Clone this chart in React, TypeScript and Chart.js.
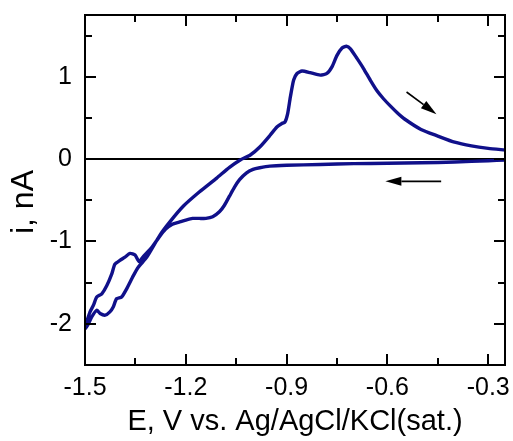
import React, { useEffect, useRef } from "react";
import { Chart, registerables } from "chart.js";

Chart.register(...registerables);

// Cathodic scan (from -0.25 V towards -1.5 V)
const cathodicE = [
  -0.25, -0.3, -0.4, -0.5, -0.6, -0.7, -0.8, -0.9, -0.95, -0.98, -1.0, -1.02, -1.04, -1.055,
  -1.07, -1.085, -1.1, -1.12, -1.14, -1.16, -1.18, -1.2, -1.22, -1.24, -1.26, -1.28, -1.301,
  -1.326, -1.339, -1.351, -1.366, -1.381, -1.396, -1.411, -1.42, -1.435, -1.45, -1.465, -1.475,
  -1.485, -1.495, -1.5,
];
const cathodicI = [
  -0.01, -0.02, -0.035, -0.045, -0.05, -0.055, -0.065, -0.075, -0.085, -0.105, -0.125, -0.17, -0.25, -0.34,
  -0.45, -0.56, -0.64, -0.7, -0.72, -0.72, -0.72, -0.74, -0.765, -0.79, -0.85, -0.95, -1.07,
  -1.18, -1.245, -1.165, -1.145, -1.19, -1.23, -1.275, -1.39, -1.535, -1.635, -1.675, -1.775,
  -1.855, -1.975, -2.04,
];

// Anodic (return) scan (from -1.5 V back to -0.25 V)
const anodicE = [
  -1.5, -1.49, -1.48, -1.465, -1.455, -1.44, -1.426, -1.416, -1.406, -1.391, -1.376, -1.356,
  -1.341, -1.316, -1.2765, -1.245, -1.207, -1.16, -1.108, -1.07, -1.038, -1.008, -0.979, -0.949,
  -0.929, -0.915, -0.905, -0.897, -0.889, -0.879, -0.869, -0.854, -0.83, -0.8, -0.78, -0.765,
  -0.75, -0.735, -0.722, -0.71, -0.69, -0.671, -0.651, -0.631, -0.611, -0.59, -0.57, -0.55,
  -0.5, -0.45, -0.4, -0.35, -0.3, -0.25,
];
const anodicI = [
  -2.06, -2.0, -1.915, -1.835, -1.875, -1.895, -1.855, -1.795, -1.695, -1.675, -1.575, -1.415,
  -1.31, -1.19, -0.92, -0.75, -0.57, -0.4, -0.23, -0.1, -0.01, 0.05, 0.15, 0.29,
  0.39, 0.43, 0.45, 0.55, 0.75, 0.96, 1.04, 1.07, 1.05, 1.02, 1.04, 1.12,
  1.26, 1.35, 1.37, 1.34, 1.22, 1.1, 0.96, 0.83, 0.73, 0.64, 0.56, 0.49,
  0.36, 0.28, 0.205, 0.16, 0.13, 0.11,
];

const xRange = [-1.5, -0.25];
const yRange = [-2.5, 1.75];
const xMajorTicks = [-1.5, -1.2, -0.9, -0.6, -0.3];
const xMinorTicks = [-1.35, -1.05, -0.75, -0.45];
const yMajorTicks = [-2, -1, 0, 1];
const yMinorTicks = [-2.5, -1.5, -0.5, 0.5, 1.5];

// Scan-direction arrows: [fromE, fromI, toE, toI]
const arrowForward = [-0.543, 0.815, -0.454, 0.546];
const arrowBackward = [-0.44, -0.27, -0.606, -0.27];

const xTitle = "E, V vs. Ag/AgCl/KCl(sat.)";
const yTitle = "i, nA";

const FONT = "'Liberation Sans', Arial, Helvetica, sans-serif";
const CURVE_COLOR = "#10108a";

const framePlugin = {
  id: "frameTicksArrows",
  afterDatasetsDraw(chart: any) {
    const { ctx, chartArea } = chart;
    const xs = chart.scales.x;
    const ys = chart.scales.y;
    const { left, right, top, bottom } = chartArea;
    ctx.save();
    ctx.strokeStyle = "#000";
    ctx.lineWidth = 2;
    ctx.lineCap = "butt";
    // frame
    ctx.strokeRect(left, top, right - left, bottom - top);
    const major = 11;
    const minor = 7;
    ctx.beginPath();
    const xTick = (v: number, len: number) => {
      const px = Math.round(xs.getPixelForValue(v));
      ctx.moveTo(px, bottom);
      ctx.lineTo(px, bottom - len);
      ctx.moveTo(px, top);
      ctx.lineTo(px, top + len);
    };
    const yTick = (v: number, len: number) => {
      const py = Math.round(ys.getPixelForValue(v));
      ctx.moveTo(left, py);
      ctx.lineTo(left + len, py);
      ctx.moveTo(right, py);
      ctx.lineTo(right - len, py);
    };
    xMajorTicks.forEach((v) => xTick(v, major));
    xMinorTicks.forEach((v) => xTick(v, minor));
    yMajorTicks.forEach((v) => yTick(v, major));
    yMinorTicks.forEach((v) => yTick(v, minor));
    ctx.stroke();

    const drawArrow = (a: number[]) => {
      const x1 = xs.getPixelForValue(a[0]);
      const y1 = ys.getPixelForValue(a[1]);
      const x2 = xs.getPixelForValue(a[2]);
      const y2 = ys.getPixelForValue(a[3]);
      const ang = Math.atan2(y2 - y1, x2 - x1);
      const headLen = 16;
      const headW = 4.5;
      const bx = x2 - headLen * Math.cos(ang);
      const by = y2 - headLen * Math.sin(ang);
      ctx.lineWidth = 1.6;
      ctx.beginPath();
      ctx.moveTo(x1, y1);
      ctx.lineTo(bx, by);
      ctx.stroke();
      ctx.beginPath();
      ctx.moveTo(x2, y2);
      ctx.lineTo(bx + headW * Math.sin(ang), by - headW * Math.cos(ang));
      ctx.lineTo(bx - headW * Math.sin(ang), by + headW * Math.cos(ang));
      ctx.closePath();
      ctx.fillStyle = "#000";
      ctx.fill();
    };
    drawArrow(arrowForward);
    drawArrow(arrowBackward);

    // y-axis title (rotated), placed like the reference
    ctx.save();
    ctx.translate(24, (top + bottom) / 2 + 12);
    ctx.rotate(-Math.PI / 2);
    ctx.fillStyle = "#000";
    ctx.font = `32px ${FONT}`;
    ctx.textAlign = "center";
    ctx.textBaseline = "middle";
    ctx.fillText(yTitle, 0, 0);
    ctx.restore();

    ctx.restore();
  },
};

export default function App() {
  const canvasRef = useRef<HTMLCanvasElement | null>(null);

  useEffect(() => {
    if (!canvasRef.current) return;
    const curve = [
      ...cathodicE.map((e, i) => ({ x: e, y: cathodicI[i] })),
      ...anodicE.map((e, i) => ({ x: e, y: anodicI[i] })),
    ];
    const zeroLine = [
      { x: xRange[0], y: 0 },
      { x: xRange[1], y: 0 },
    ];
    const chart = new Chart(canvasRef.current, {
      type: "scatter",
      data: {
        datasets: [
          {
            data: curve,
            showLine: true,
            borderColor: CURVE_COLOR,
            borderWidth: 3.4,
            pointRadius: 0,
            tension: 0.2,
            fill: false,
            order: 1,
          },
          {
            data: zeroLine,
            showLine: true,
            borderColor: "#000",
            borderWidth: 2,
            pointRadius: 0,
            order: 2,
          },
        ],
      },
      options: {
        animation: false,
        responsive: false,
        events: [],
        layout: { padding: { left: 0, top: 15, right: 8, bottom: 0 } },
        plugins: {
          legend: { display: false },
          tooltip: { enabled: false },
        },
        scales: {
          x: {
            type: "linear",
            position: "bottom",
            min: xRange[0],
            max: xRange[1],
            grid: { display: false, drawTicks: false },
            border: { display: false },
            afterBuildTicks: (s: any) => {
              s.ticks = xMajorTicks.map((v) => ({ value: v }));
            },
            afterFit: (s: any) => {
              s.height = 76;
              s.paddingLeft = 0;
              s.paddingRight = 0;
            },
            ticks: {
              color: "#000",
              font: { family: FONT, size: 25 },
              padding: 8,
              maxRotation: 0,
              autoSkip: false,
              callback: (v: any) => Number(v).toFixed(1),
            },
            title: {
              display: true,
              text: xTitle,
              color: "#000",
              font: { family: FONT, size: 29 },
              padding: { top: 0, bottom: 2 },
            },
          },
          y: {
            type: "linear",
            position: "left",
            min: yRange[0],
            max: yRange[1],
            grid: { display: false, drawTicks: false },
            border: { display: false },
            afterBuildTicks: (s: any) => {
              s.ticks = yMajorTicks.map((v) => ({ value: v }));
            },
            afterFit: (s: any) => {
              s.width = 85;
              s.paddingTop = 0;
              s.paddingBottom = 0;
            },
            ticks: {
              color: "#000",
              font: { family: FONT, size: 25 },
              padding: 13,
              autoSkip: false,
              callback: (v: any) => Number(v).toFixed(0),
            },
            title: { display: false },
          },
        },
      },
      plugins: [framePlugin],
    } as any);
    return () => chart.destroy();
  }, []);

  return (
    <div style={{ position: "fixed", left: 0, top: 0, width: 513, height: 441, background: "#fff" }}>
      <canvas ref={canvasRef} width={513} height={441} style={{ display: "block" }} />
    </div>
  );
}
